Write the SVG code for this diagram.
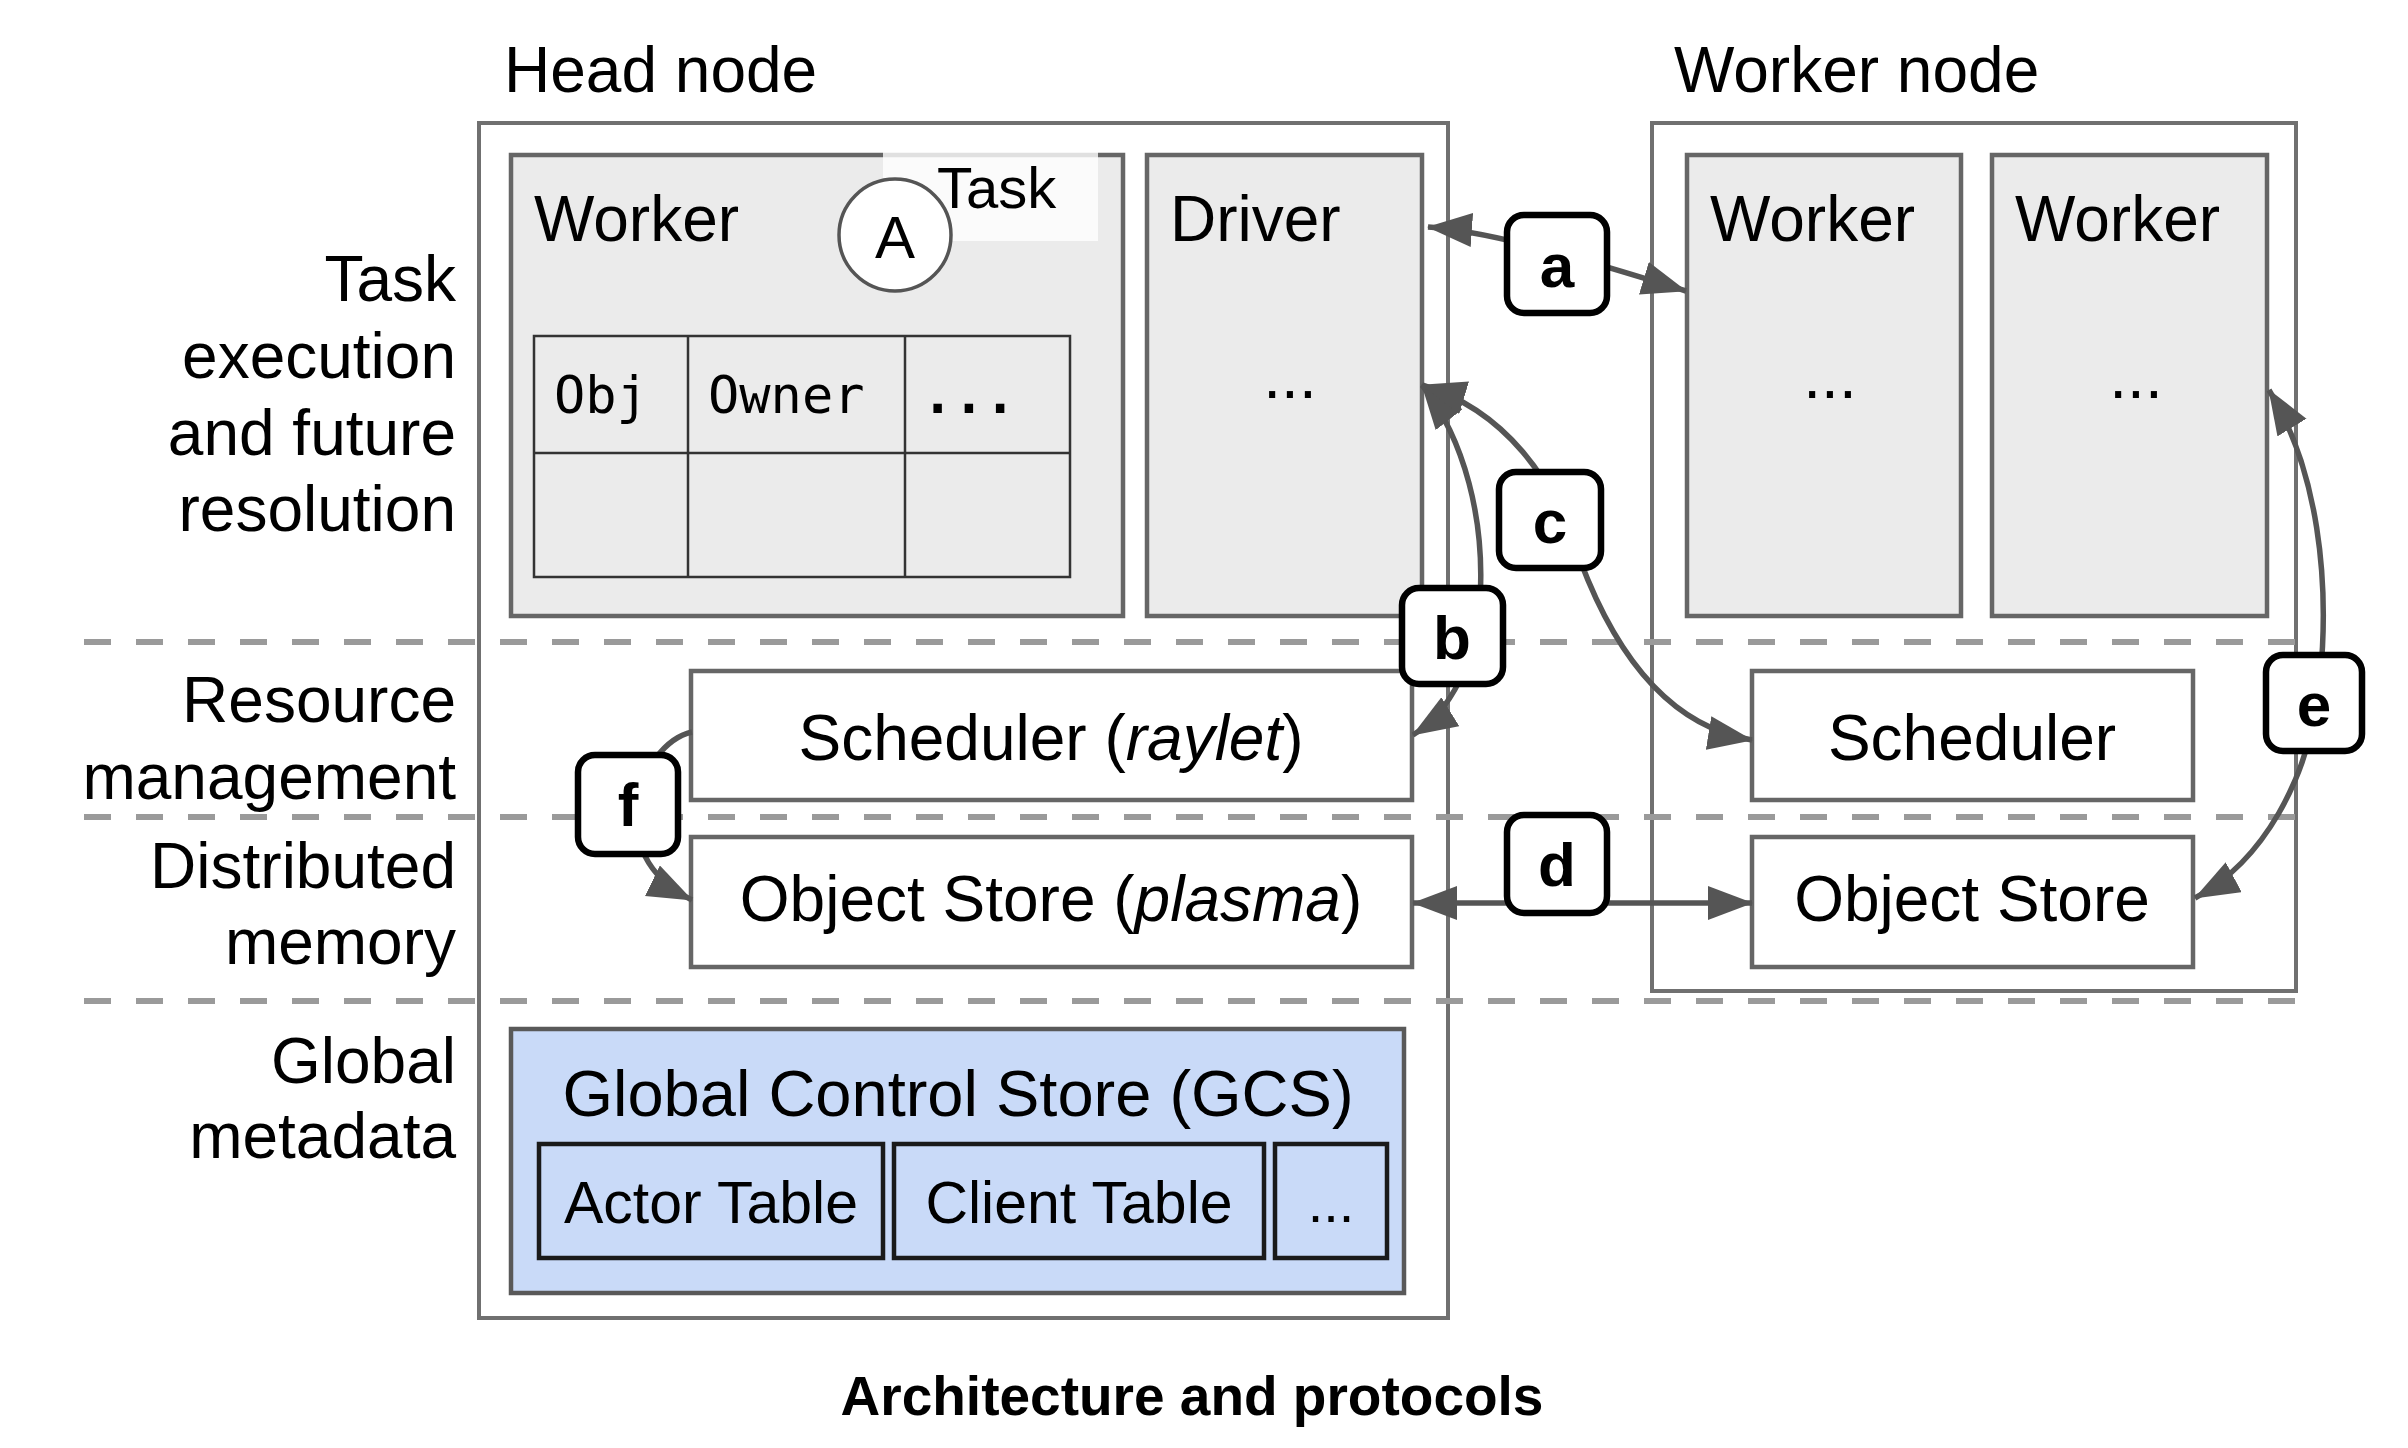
<svg xmlns="http://www.w3.org/2000/svg" width="2408" height="1448" viewBox="0 0 2408 1448">
<style>
text{font-family:"Liberation Sans",Arial,sans-serif;fill:#000}
.t64{font-size:64px}
.t59{font-size:59px}
.lbl{font-size:64px;text-anchor:end}
.mid{text-anchor:middle}
.dots{font-size:64px;text-anchor:middle}
.outer{fill:#fff;stroke:#707070;stroke-width:4}
.gray{fill:#ebebeb;stroke:#666;stroke-width:4.5}
.white{fill:#fff;stroke:#666;stroke-width:4.5}
.dash{stroke:#9a9a9a;stroke-width:6;stroke-dasharray:27 25;fill:none}
.conn{fill:none;stroke:#555;stroke-width:5.5}
.tag rect{fill:#fff;stroke:#000;stroke-width:6.5}
.tag text{font-size:62px;font-weight:bold;text-anchor:middle}
.tbl{fill:none;stroke:#333;stroke-width:2.5}
.mono{font-family:"DejaVu Sans Mono","Liberation Mono",monospace;font-size:52px}
.gtab{fill:#c9daf8;stroke:#1a1a1a;stroke-width:4.5}
</style>
<defs>
<marker id="arr" markerUnits="userSpaceOnUse" markerWidth="46" markerHeight="36" refX="44" refY="17" orient="auto-start-reverse">
<path d="M0,0 L45,17 L0,34 z" fill="#555"/>
</marker>
</defs>
<rect width="2408" height="1448" fill="#fff"/>

<text class="t64" x="504" y="92">Head node</text>
<text class="t64" x="1674" y="92">Worker node</text>

<g id="layer-labels">
<text class="lbl" x="456" y="301">Task</text>
<text class="lbl" x="456" y="378">execution</text>
<text class="lbl" x="456" y="455">and future</text>
<text class="lbl" x="456" y="531">resolution</text>
<text class="lbl" x="456" y="722">Resource</text>
<text class="lbl" x="456" y="799">management</text>
<text class="lbl" x="456" y="888">Distributed</text>
<text class="lbl" x="456" y="964">memory</text>
<text class="lbl" x="456" y="1083">Global</text>
<text class="lbl" x="456" y="1158">metadata</text>
</g>

<g id="head-node"><rect class="outer" x="479" y="123" width="969" height="1195"/></g>
<g id="worker-node"><rect class="outer" x="1652" y="123" width="644" height="868"/></g>

<g id="dashed-separators">
<line class="dash" x1="84" y1="642" x2="2311" y2="642"/>
<line class="dash" x1="84" y1="817" x2="2311" y2="817"/>
<line class="dash" x1="84" y1="1001" x2="2311" y2="1001"/>
</g>

<g id="head-worker">
<rect class="gray" x="511" y="155" width="612" height="461"/>
<text class="t64" x="534" y="241">Worker</text>
<rect x="883" y="152" width="215" height="89" fill="#fff" opacity="0.8"/>
<circle cx="895" cy="235" r="56" fill="#fff" stroke="#555" stroke-width="3.5"/>
<text class="mid" x="895" y="258" style="font-size:60px">A</text>
<text x="937" y="208" style="font-size:58px">Task</text>
<g id="ownership-table">
<rect class="tbl" x="534" y="336" width="536" height="241"/>
<line class="tbl" x1="534" y1="453" x2="1070" y2="453"/>
<line class="tbl" x1="688" y1="336" x2="688" y2="577"/>
<line class="tbl" x1="905" y1="336" x2="905" y2="577"/>
<text class="mono" x="554" y="413">Obj</text>
<text class="mono" x="708" y="413">Owner</text>
<text class="mono" x="922" y="413" font-weight="bold">...</text>
</g>
</g>

<g id="driver">
<rect class="gray" x="1147" y="155" width="275" height="461"/>
<text class="t64" x="1170" y="241">Driver</text>
<text class="dots" x="1290" y="398">...</text>
</g>

<g id="worker-1">
<rect class="gray" x="1687" y="155" width="274" height="461"/>
<text class="t64" x="1710" y="241">Worker</text>
<text class="dots" x="1830" y="398">...</text>
</g>

<g id="worker-2">
<rect class="gray" x="1992" y="155" width="275" height="461"/>
<text class="t64" x="2015" y="241">Worker</text>
<text class="dots" x="2136" y="398">...</text>
</g>

<g id="scheduler-raylet">
<rect class="white" x="691" y="671" width="721" height="129"/>
<text class="t64 mid" x="1051" y="760">Scheduler (<tspan font-style="italic">raylet</tspan>)</text>
</g>

<g id="object-store-plasma">
<rect class="white" x="691" y="837" width="721" height="130"/>
<text class="t64 mid" x="1051" y="921">Object Store (<tspan font-style="italic">plasma</tspan>)</text>
</g>

<g id="scheduler-worker">
<rect class="white" x="1752" y="671" width="441" height="129"/>
<text class="t64 mid" x="1972" y="760">Scheduler</text>
</g>

<g id="object-store-worker">
<rect class="white" x="1752" y="837" width="441" height="130"/>
<text class="t64 mid" x="1972" y="921">Object Store</text>
</g>

<g id="gcs">
<rect x="511" y="1029" width="893" height="264" fill="#c9daf8" stroke="#595959" stroke-width="4.5"/>
<text class="mid" x="958" y="1116" style="font-size:65px">Global Control Store (GCS)</text>
<rect class="gtab" x="539" y="1144" width="344" height="114"/>
<text class="t59 mid" x="711" y="1223">Actor Table</text>
<rect class="gtab" x="894" y="1144" width="370" height="114"/>
<text class="t59 mid" x="1079" y="1223">Client Table</text>
<rect class="gtab" x="1275" y="1144" width="112" height="114"/>
<text class="mid" x="1331" y="1222" style="font-size:56px">...</text>
</g>

<g id="connectors">
<path class="conn" d="M1428,227 C1500,232 1610,268 1686,291" marker-start="url(#arr)" marker-end="url(#arr)"/>
<path class="conn" d="M1422,385 C1465,440 1485,520 1480,600 C1477,660 1450,712 1413,735" marker-start="url(#arr)" marker-end="url(#arr)"/>
<path class="conn" d="M1422,385 C1505,410 1555,480 1580,560 C1610,640 1660,725 1752,740" marker-start="url(#arr)" marker-end="url(#arr)"/>
<path class="conn" d="M1413,903 L1752,903" marker-start="url(#arr)" marker-end="url(#arr)"/>
<path class="conn" d="M2269,390 C2318,470 2330,580 2320,680 C2310,780 2262,862 2195,898" marker-start="url(#arr)" marker-end="url(#arr)"/>
<path class="conn" d="M692,732 C665,738 642,770 636,805 C632,850 655,882 692,900" marker-end="url(#arr)"/>
</g>

<g id="tag-a" class="tag"><rect x="1507" y="215" width="100" height="98" rx="17"/><text x="1557" y="287">a</text></g>
<g id="tag-b" class="tag"><rect x="1402" y="588" width="101" height="96" rx="17"/><text x="1452" y="659">b</text></g>
<g id="tag-c" class="tag"><rect x="1499" y="472" width="102" height="96" rx="17"/><text x="1550" y="543">c</text></g>
<g id="tag-d" class="tag"><rect x="1507" y="815" width="100" height="98" rx="17"/><text x="1557" y="886">d</text></g>
<g id="tag-e" class="tag"><rect x="2266" y="655" width="96" height="96" rx="17"/><text x="2314" y="726">e</text></g>
<g id="tag-f" class="tag"><rect x="578" y="755" width="100" height="99" rx="17"/><text x="628" y="826">f</text></g>

<text class="mid" x="1192" y="1415" style="font-size:55px;font-weight:bold">Architecture and protocols</text>
</svg>
